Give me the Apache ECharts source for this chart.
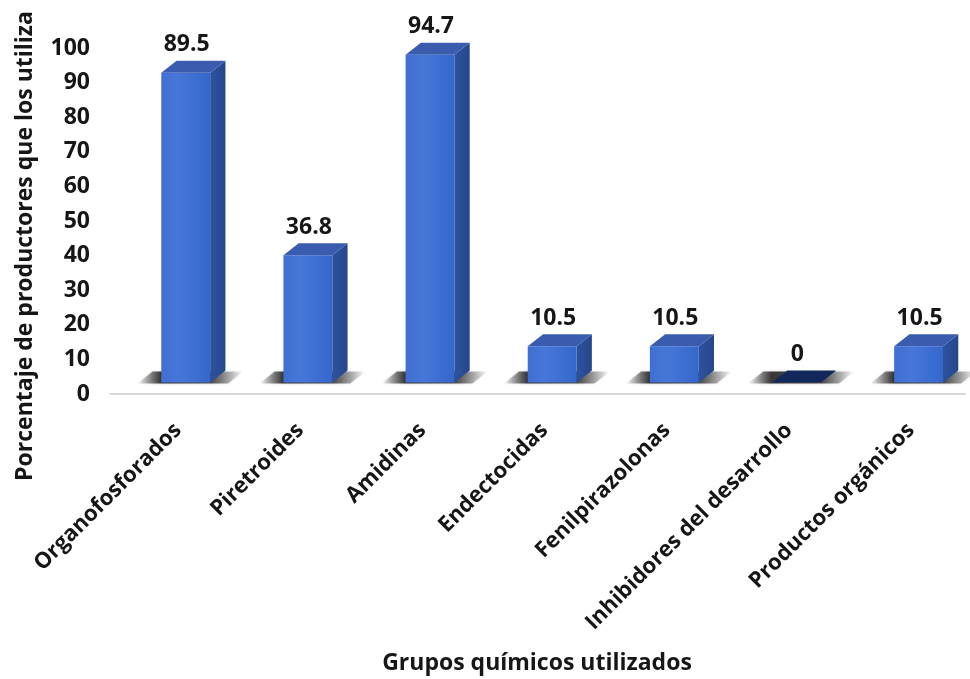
<!DOCTYPE html>
<html>
<head>
<meta charset="utf-8">
<script src="https://cdn.jsdelivr.net/npm/echarts@6/dist/echarts.min.js"></script>
<style>
  html, body { margin: 0; padding: 0; background: #ffffff; }
  #chart { width: 970px; height: 679px; }
</style>
</head>
<body>
<div id="chart"></div>
<script>
// Chemical groups used by producers (% of producers)
const categories = [
  'Organofosforados',
  'Piretroides',
  'Amidinas',
  'Endectocidas',
  'Fenilpirazolonas',
  'Inhibidores del desarrollo',
  'Productos orgánicos'
];
const values = [89.5, 36.8, 94.7, 10.5, 10.5, 0, 10.5];
const yMin = 0, yMax = 100, yStep = 10;

const yTitle = 'Porcentaje de productores que los utiliza';
const xTitle = 'Grupos químicos utilizados';

const FONT = '"Open Sans", "DejaVu Sans", sans-serif';

const chart = echarts.init(document.getElementById('chart'), null, { renderer: 'canvas' });

// Draws a pseudo-3D column: floor shadow, front face, side face, top face, value label
function renderBar(params, api) {
  const idx = api.value(0);
  const v = api.value(1);
  const base = api.coord([idx, 0]);
  const top = api.coord([idx, v]);
  const bw = api.size([1, 0])[0];

  const lift = 11.5;          // columns sit on the floor slightly behind the axis line
  const dy = 12;              // depth, vertical
  const dx = 0.125 * bw;      // depth, horizontal
  const fl = base[0] - 0.08 * bw;
  const fr = fl + 0.4 * bw;
  const yb = base[1] - lift;
  const yt = top[1] - lift;

  const children = [];

  // floor shadow
  children.push({
    type: 'polygon',
    shape: { points: [[fl - 24, yb + 1], [fr + 18, yb + 1], [fr + 18 + dx, yb + 1 - dy], [fl - 24 + dx, yb + 1 - dy]] },
    style: {
      fill: new echarts.graphic.LinearGradient(0, 0, 1, 0, [
        { offset: 0, color: 'rgba(40,40,40,0)' },
        { offset: 0.22, color: 'rgba(30,30,30,0.85)' },
        { offset: 0.7, color: 'rgba(30,30,30,0.75)' },
        { offset: 1, color: 'rgba(40,40,40,0)' }
      ]),
      shadowBlur: 3,
      shadowColor: 'rgba(0,0,0,0.25)'
    }
  });

  if (v > 0) {
    // front face
    children.push({
      type: 'polygon',
      shape: { points: [[fl, yb], [fr, yb], [fr, yt], [fl, yt]] },
      style: {
        fill: new echarts.graphic.LinearGradient(0, 0, 1, 0, [
          { offset: 0, color: '#3f6fd2' },
          { offset: 0.35, color: '#4677d8' },
          { offset: 1, color: '#3566cb' }
        ])
      }
    });
    // side face
    children.push({
      type: 'polygon',
      shape: { points: [[fr, yb], [fr + dx, yb - dy], [fr + dx, yt - dy], [fr, yt]] },
      style: {
        fill: new echarts.graphic.LinearGradient(0, 0, 1, 0, [
          { offset: 0, color: '#2d539f' },
          { offset: 1, color: '#26468c' }
        ])
      }
    });
  }
  // top face
  children.push({
    type: 'polygon',
    shape: { points: [[fl, yt], [fr, yt], [fr + dx, yt - dy], [fl + dx, yt - dy]] },
    style: { fill: v > 0 ? '#3a5cae' : '#13285a' }
  });

  // value label
  children.push({
    type: 'text',
    style: {
      x: (fl + fr) / 2 + 1,
      y: yt - dy - 16,
      text: String(v),
      fill: '#161616',
      font: 'bold 23px ' + FONT,
      align: 'center',
      verticalAlign: 'middle'
    }
  });

  return { type: 'group', children: children };
}

chart.setOption({
  backgroundColor: '#ffffff',
  animation: false,
  grid: { left: 110, right: 5, top: 48, bottom: 285 },
  xAxis: {
    type: 'category',
    data: categories,
    axisLine: { show: true, lineStyle: { color: '#d9d9d9', width: 2 } },
    axisTick: { show: false },
    axisLabel: {
      interval: 0,
      rotate: 45,
      margin: 40,
      padding: [0, -10, 0, 0],
      color: '#161616',
      fontFamily: FONT,
      fontWeight: 'bold',
      fontSize: 22
    },
    splitLine: { show: false }
  },
  yAxis: {
    type: 'value',
    min: yMin,
    max: yMax,
    interval: yStep,
    axisLine: { show: false },
    axisTick: { show: false },
    splitLine: { show: false },
    axisLabel: {
      margin: 20,
      color: '#161616',
      fontFamily: FONT,
      fontWeight: 'bold',
      fontSize: 23
    }
  },
  graphic: [
    {
      type: 'text',
      x: 25,
      y: 246,
      rotation: Math.PI / 2,
      style: {
        text: yTitle,
        fill: '#161616',
        font: 'bold 23px ' + FONT,
        align: 'center',
        verticalAlign: 'middle'
      }
    },
    {
      type: 'text',
      x: 537,
      y: 663,
      style: {
        text: xTitle,
        fill: '#161616',
        font: 'bold 23px ' + FONT,
        align: 'center',
        verticalAlign: 'middle'
      }
    }
  ],
  series: [{
    type: 'custom',
    renderItem: renderBar,
    data: values.map((v, i) => [i, v]),
    encode: { x: 0, y: 1 },
    clip: false
  }]
});
</script>
</body>
</html>
